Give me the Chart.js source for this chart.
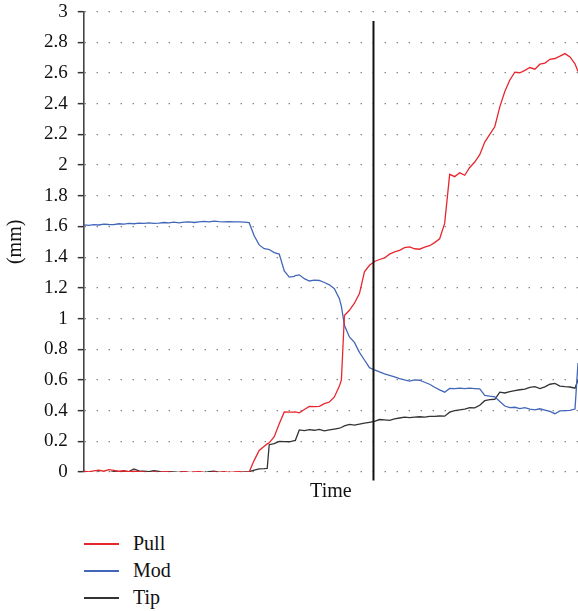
<!DOCTYPE html>
<html>
<head>
<meta charset="utf-8">
<script src="https://cdn.jsdelivr.net/npm/chart.js@4"></script>
<style>
  html, body { margin: 0; padding: 0; background: #fff; }
  #wrap { position: relative; width: 578px; height: 611px; }
  #legend { position: absolute; left: 84px; top: 530px; font-family: "Liberation Serif", "DejaVu Serif", serif; font-size: 20px; color: #111; }
  .item { display: flex; align-items: center; height: 27px; }
  .swatch { display: block; width: 35px; height: 2px; margin-right: 14px; }
</style>
</head>
<body>
<div id="wrap">
  <canvas id="c" width="578" height="520"></canvas>
  <div id="legend"></div>
</div>
<script>
// time axis (arbitrary time units)
const time = [0,5,10,15,20,25,30,35,40,45,50,55,60,65,70,75,80,85,90,95,100,105,110,115,120,125,130,135,140,145,150,155,160,165,170,175,180,183,185,190,195,200,205,210,211,215,220,225,230,235,240,245,250,255,257,260,265,270,275,280,285,290,295,300,305,310,315,320,325,330,335,340,345,350,355,360,365,370,375,380,385,390,395,400,405,410,415,420,425,430,435,440,445,450,455,460,465,470,475,480,485,490,493];

const pull = [0.005,0.0,0.008,0.012,0.005,0.015,0.01,0.005,0.008,0.002,0.005,0.003,0.0,-0.005,0.0,-0.003,0.002,0.0,-0.005,-0.002,0.003,-0.004,0.0,0.002,-0.003,-0.005,0.0,-0.003,0.002,-0.002,0.0,0.003,-0.002,0.0,0.076,0.14,0.168,0.183,0.19,0.23,0.315,0.391,0.39,0.391,0.392,0.386,0.407,0.428,0.426,0.428,0.445,0.456,0.489,0.56,0.6,1.02,1.054,1.1,1.163,1.305,1.347,1.372,1.385,1.395,1.42,1.434,1.445,1.462,1.467,1.455,1.452,1.465,1.475,1.495,1.52,1.62,1.94,1.925,1.95,1.934,1.985,2.02,2.068,2.15,2.2,2.25,2.38,2.48,2.555,2.606,2.602,2.618,2.636,2.625,2.658,2.665,2.69,2.695,2.71,2.727,2.705,2.66,2.61];

const mod = [1.61,1.608,1.612,1.61,1.615,1.613,1.612,1.618,1.616,1.62,1.618,1.622,1.62,1.624,1.62,1.622,1.626,1.624,1.628,1.624,1.628,1.63,1.626,1.63,1.633,1.63,1.635,1.632,1.63,1.632,1.63,1.63,1.628,1.625,1.54,1.48,1.455,1.452,1.45,1.43,1.42,1.31,1.27,1.275,1.28,1.285,1.26,1.245,1.25,1.248,1.235,1.22,1.195,1.13,1.08,0.956,0.88,0.845,0.78,0.73,0.68,0.665,0.652,0.64,0.63,0.62,0.609,0.6,0.593,0.6,0.598,0.585,0.572,0.552,0.535,0.52,0.545,0.544,0.546,0.544,0.546,0.544,0.542,0.5,0.494,0.49,0.46,0.43,0.42,0.422,0.413,0.42,0.41,0.405,0.412,0.404,0.395,0.38,0.398,0.4,0.402,0.41,0.71];

const tip = [-0.015,-0.005,-0.012,0.0,-0.01,-0.005,0.002,0.0,0.005,0.003,0.02,0.008,0.005,0.002,0.008,0.004,-0.002,0.003,0.0,-0.003,0.002,-0.002,-0.008,0.0,-0.004,0.003,0.005,-0.002,0.0,-0.01,-0.003,-0.005,0.0,0.002,0.012,0.02,0.022,0.024,0.178,0.185,0.2,0.198,0.197,0.205,0.205,0.274,0.27,0.276,0.272,0.278,0.268,0.274,0.28,0.286,0.29,0.3,0.31,0.305,0.312,0.318,0.324,0.33,0.342,0.34,0.337,0.346,0.352,0.357,0.355,0.358,0.36,0.358,0.363,0.362,0.365,0.364,0.39,0.4,0.405,0.41,0.42,0.418,0.435,0.465,0.472,0.474,0.52,0.515,0.524,0.53,0.536,0.54,0.552,0.556,0.544,0.555,0.572,0.578,0.56,0.556,0.554,0.546,0.6];

// vertical marker at a given time
const markerTime = 289;
const markerSpan = [-0.055, 2.94];

const yTicks = [0,0.2,0.4,0.6,0.8,1,1.2,1.4,1.6,1.8,2,2.2,2.4,2.6,2.8,3];

const seriesNames = ['Pull','Mod','Tip'];
const seriesColors = ['#e8262e','#4267b8','#333333'];
const seriesValues = [pull, mod, tip];

const serif = "'Liberation Serif', 'DejaVu Serif', serif";
Chart.defaults.font.family = serif;
Chart.defaults.color = '#111';

const datasets = seriesValues.map((vals, k) => ({
  label: seriesNames[k],
  data: time.map((t, i) => ({x: t, y: vals[i]})),
  borderColor: seriesColors[k],
  borderWidth: 1.3,
  pointRadius: 0,
  tension: 0,
  fill: false,
  order: 2
}));
datasets.push({
  label: '_marker',
  data: markerSpan.map(v => ({x: markerTime, y: v})),
  borderColor: '#111',
  borderWidth: 2,
  pointRadius: 0,
  clip: false,
  order: 1
});

const chart = new Chart(document.getElementById('c'), {
  type: 'line',
  data: { datasets },
  options: {
    responsive: false,
    animation: false,
    devicePixelRatio: 1,
    layout: { padding: { left: 0, right: 0, top: 0, bottom: 16 } },
    plugins: { legend: { display: false }, tooltip: { enabled: false } },
    scales: {
      x: {
        type: 'linear',
        min: 0, max: 493,
        ticks: { display: false },
        grid: { display: false, drawTicks: false },
        border: { display: false },
        title: { display: true, text: 'Time', color: '#111', font: { family: serif, size: 20 }, padding: { top: 8, bottom: 0 } }
      },
      y: {
        min: 0, max: 3,
        afterBuildTicks: s => { s.ticks = yTicks.map(v => ({value: v})); },
        afterFit: s => { s.paddingTop = 11.7; s.paddingBottom = 0; },
        ticks: { color: '#111', font: { family: serif, size: 19 }, padding: 10, callback: v => String(+v.toFixed(1)) },
        grid: { color: '#777', lineWidth: 1.3, tickLength: 6, tickColor: '#333', tickWidth: 1.5 },
        border: { color: '#444', width: 1.6, dash: [1.3, 10.7] },
        title: { display: true, text: '(mm)', color: '#111', font: { family: serif, size: 20 }, padding: { top: 4, bottom: 6 } }
      }
    }
  }
});

const legend = document.getElementById('legend');
chart.data.datasets.filter(d => !d.label.startsWith('_')).forEach(d => {
  const row = document.createElement('div');
  row.className = 'item';
  const sw = document.createElement('span');
  sw.className = 'swatch';
  sw.style.backgroundColor = d.borderColor;
  const tx = document.createElement('span');
  tx.textContent = d.label;
  row.appendChild(sw); row.appendChild(tx);
  legend.appendChild(row);
});
</script>
</body>
</html>
